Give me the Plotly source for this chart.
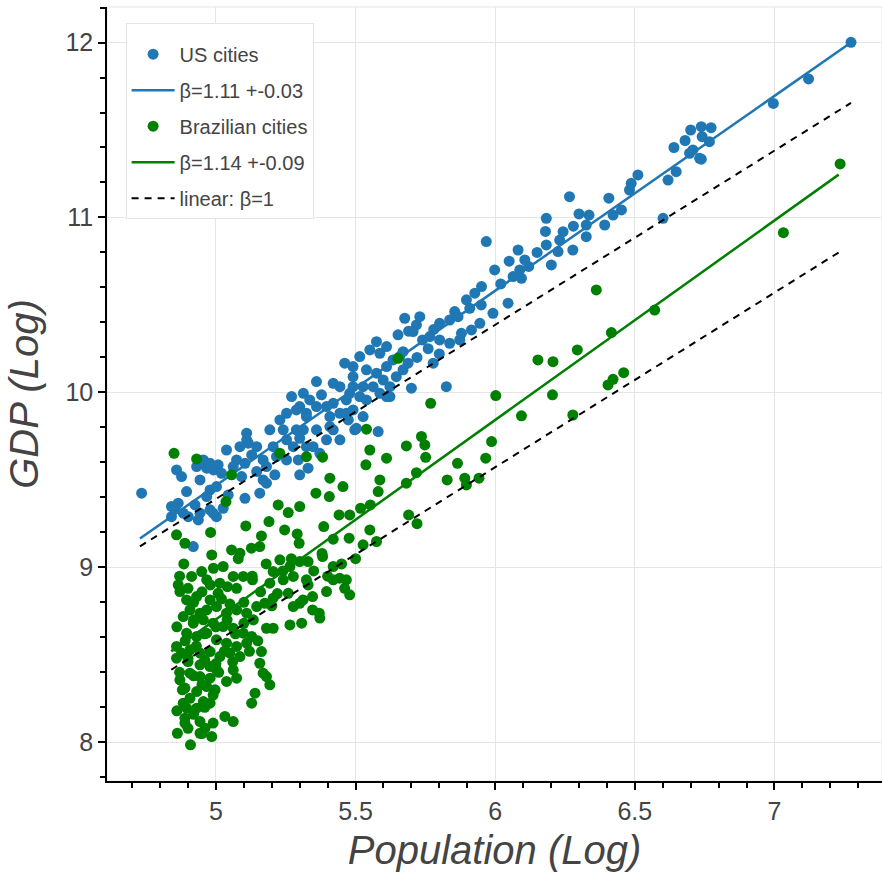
import plotly.graph_objects as go

# ---------------- data ----------------
US_X = [4.734, 4.859, 4.877, 4.895, 4.865, 4.853, 4.841, 4.931, 4.943, 4.955, 4.991, 5.008, 4.979, 4.967,
        5.002, 4.925, 4.943, 4.901, 4.937, 4.919, 4.979, 5.002, 4.99, 5.026, 5.044, 5.038, 5.11, 5.116,
        5.074, 5.104, 5.146, 5.092, 5.146, 5.181, 5.193, 5.241, 5.288, 5.205, 5.169, 5.211, 5.104, 5.157,
        5.181, 5.253, 5.277, 5.30, 5.295, 5.33, 5.30, 5.253, 5.271, 5.313, 5.36, 5.378, 5.408, 5.42,
        5.444, 5.36, 5.396, 5.348, 5.372, 5.444, 5.474, 5.497, 5.479, 5.527, 5.539, 5.581, 5.611,
        5.652, 5.575, 5.551, 5.587, 5.611, 5.634, 5.658, 5.461, 5.491, 5.539, 5.575, 5.599, 5.36, 5.42,
        5.324, 5.467, 5.503, 5.408, 5.313, 5.11, 5.515, 5.587, 5.623, 5.623, 5.563, 5.467, 5.396, 5.30, 5.491,
        4.967, 5.02, 4.979, 4.883, 4.841, 5.062, 5.128, 5.169, 5.086, 5.229, 5.324, 5.288, 5.336, 5.253,
        5.217, 5.324, 5.491, 5.42, 5.444, 5.527, 5.515, 5.611, 5.646, 5.491,
        5.74, 5.76, 5.72, 5.80, 5.78, 5.69, 6.02, 6.12, 6.15, 6.05, 6.28, 6.30, 6.18,
        6.696, 6.708, 6.732, 6.648, 6.619, 6.511, 6.487, 6.481, 6.407, 6.266, 6.452, 6.422, 6.392, 6.336,
        6.326, 6.326, 6.601, 6.183, 6.243, 6.231, 6.183, 6.225, 6.278, 6.201, 5.968, 5.998, 6.082, 6.106,
        6.088, 6.064, 6.094, 6.046, 5.992, 5.951, 5.927, 5.897, 5.909, 5.855, 5.837, 5.801, 5.73, 5.676,
        5.718, 5.945, 5.915, 5.873, 5.837, 5.778, 5.825, 5.70, 5.67, 5.801, 5.706, 5.766, 5.867, 5.95,
        5.879, 5.67, 5.688,
        6.738, 6.773, 6.741, 6.767, 6.738, 6.996, 7.122, 7.274, 6.70, 6.68, 6.64]
US_Y = [9.424, 9.557, 9.519, 9.433, 9.367, 9.338, 9.29, 9.576, 9.5, 9.614, 9.557, 9.586, 9.443, 9.405,
        9.462, 9.357, 9.31, 9.29, 9.271, 9.119, 9.329, 9.29, 9.31, 9.338, 9.414, 9.671, 9.767, 9.71,
        9.614, 9.595, 9.69, 9.519, 9.548, 9.576, 9.786, 9.786, 9.786, 9.69, 9.5, 9.529, 9.395, 9.424,
        9.481, 9.614, 9.69, 9.738, 9.614, 9.567, 9.529, 9.881, 9.976, 9.995, 9.919, 9.986, 9.862, 9.938,
        10.033, 9.786, 9.729, 9.69, 9.652, 9.881, 9.843, 9.786, 9.995, 10.033, 9.957, 9.776, 9.976,
        10.329, 10.29, 10.243, 10.224, 10.262, 10.186, 10.205, 10.167, 10.09, 10.129, 10.11, 10.071, 10.062, 10.052,
        9.881, 9.881, 9.795, 9.805, 9.786, 9.729, 9.976, 9.995, 9.976, 10.033, 10.033, 9.957, 9.919, 9.919, 10.033,
        9.567, 9.538, 9.595, 9.31, 9.348, 9.576, 9.643, 9.614, 9.69, 9.843, 9.862, 9.90, 9.957, 9.729,
        9.633, 9.69, 9.90, 9.786, 9.729, 9.862, 10.205, 10.148, 10.09, 10.148,
        10.30, 10.25, 10.20, 10.22, 10.36, 10.35, 10.62, 10.72, 10.80, 10.75, 10.95, 11.02, 10.92,
        11.367, 11.386, 11.338, 11.262, 11.214, 11.243, 11.195, 11.157, 11.11, 11.119, 11.043, 11.014, 10.957, 11.014,
        10.957, 10.89, 10.995, 10.995, 10.919, 10.871, 10.843, 10.805, 10.814, 10.729, 10.862, 10.7, 10.814, 10.757,
        10.7, 10.662, 10.652, 10.51, 10.452, 10.605, 10.567, 10.529, 10.481, 10.462, 10.414, 10.395, 10.433, 10.424,
        10.386, 10.395, 10.357, 10.3, 10.281, 10.167, 10.033, 10.024, 10.233, 10.3, 10.348, 10.319, 10.433, 10.5,
        10.338, 10.129, 10.167,
        11.519, 11.513, 11.462, 11.433, 11.333, 11.652, 11.792, 12.001, 11.50, 11.44, 11.40]

BR_X = [4.85, 4.931, 5.056, 5.036, 5.229, 5.324, 5.382, 5.539, 5.551, 5.611, 5.537, 5.408, 5.455, 5.358,
        5.406, 5.587, 5.581, 5.223, 5.30, 5.259, 5.441, 5.479, 5.518, 5.553, 5.107, 5.19, 5.246, 5.291,
        5.386, 4.859, 4.981, 5.163, 4.889, 5.298, 5.42, 5.477, 5.527, 5.575, 5.551, 5.056, 5.086, 5.127,
        5.157, 4.985, 4.885, 5.229, 5.265, 5.30, 5.33, 5.42, 5.382, 5.205, 5.241, 5.277, 5.324, 4.949,
        4.991, 5.026, 5.062, 5.098, 5.131, 4.913, 4.865, 4.871, 4.967, 5.014, 5.041, 5.074, 5.193, 5.205,
        5.259, 5.312, 5.346, 5.396, 5.42, 5.443, 5.467, 5.461, 5.479, 5.277, 5.30, 5.346, 5.37, 5.372,
        5.181, 5.205, 5.265, 5.307, 5.175, 5.146,
        4.895, 4.931, 4.979, 5.008, 4.907, 4.943, 4.967, 5.002, 5.038, 5.074, 5.11, 5.134, 4.883, 4.919,
        4.955, 4.99, 5.026, 5.062, 5.098, 5.128, 4.895, 4.931, 4.967, 5.002, 5.038, 5.074, 5.11, 4.859,
        4.877, 4.907, 4.943, 4.979, 5.014, 5.05, 5.086, 4.859, 4.90, 4.943, 4.979, 5.163, 5.157, 5.169,
        5.181, 5.193, 5.062, 5.074, 5.038, 4.871, 4.907, 4.943, 4.979, 5.002, 4.889, 4.931, 4.967, 4.997,
        4.907, 4.955, 4.979, 5.14, 5.128, 4.883, 4.895, 4.931, 4.889, 4.943, 4.889, 5.032, 5.062, 4.99,
        4.961, 4.985, 4.862, 4.909, 4.943,
        4.87, 4.90, 4.92, 4.95, 4.98, 5.02, 5.05, 4.86, 4.89, 4.92, 4.96, 5.00, 5.04, 5.07, 5.10,
        4.87, 4.90, 4.93, 4.96, 5.00, 5.03, 4.88, 4.92, 4.95, 4.99, 4.86, 4.92, 4.96, 4.90, 4.95,
        5.01, 5.06, 5.12, 5.15, 5.10, 5.16, 5.20, 5.22, 5.24, 5.27, 5.18, 5.13, 5.08, 5.35, 5.38,
        5.33, 5.45, 5.50, 5.40,
        7.235, 7.032, 6.362, 6.571, 6.416, 6.294, 6.153, 6.207, 6.46, 6.422, 6.404, 6.002, 6.205, 5.769,
        6.094, 6.278, 5.987, 5.736, 5.748, 5.682, 5.751, 5.966, 5.865, 5.718, 5.682, 5.828, 5.891, 5.897,
        5.942, 5.652, 5.72, 5.69]
BR_Y = [9.652, 9.62, 9.529, 9.376, 9.652, 9.633, 9.63, 9.79, 9.671, 9.624, 9.586, 9.51, 9.462, 9.424,
        9.405, 9.5, 9.433, 9.357, 9.348, 9.313, 9.3, 9.3, 9.338, 9.357, 9.237, 9.262, 9.214, 9.191,
        9.233, 9.186, 9.2, 9.18, 9.138, 9.138, 9.161, 9.167, 9.129, 9.148, 9.214, 9.1, 9.081, 9.11,
        9.119, 9.071, 9.02, 9.043, 9.005, 9.033, 9.033, 9.005, 9.062, 8.976, 8.929, 8.948, 8.929, 8.976,
        8.995, 9.005, 8.948, 8.948, 8.929, 8.948, 8.9, 8.862, 8.929, 8.91, 8.89, 8.88, 8.91, 8.824,
        8.852, 8.814, 8.833, 8.862, 8.929, 8.938, 8.929, 8.88, 8.843, 8.776, 8.795, 8.757, 8.738, 8.71,
        8.652, 8.652, 8.671, 8.681, 8.795, 8.776,
        8.814, 8.833, 8.814, 8.852, 8.757, 8.738, 8.757, 8.776, 8.738, 8.757, 8.738, 8.70, 8.719, 8.681,
        8.70, 8.681, 8.662, 8.652, 8.624, 8.605, 8.624, 8.605, 8.624, 8.586, 8.567, 8.548, 8.567, 8.548,
        8.51, 8.529, 8.51, 8.519, 8.49, 8.51, 8.49, 8.481, 8.462, 8.443, 8.433, 8.519, 8.452, 8.395,
        8.376, 8.329, 8.414, 8.367, 8.348, 8.357, 8.395, 8.376, 8.367, 8.414, 8.31, 8.29, 8.319, 8.30,
        8.252, 8.233, 8.224, 8.281, 8.224, 8.224, 8.195, 8.195, 8.138, 8.119, 8.11, 8.148, 8.119, 8.11,
        8.081, 8.033, 8.052, 7.986, 8.052,
        8.95, 8.88, 8.80, 8.86, 8.90, 8.82, 8.79, 8.66, 8.58, 8.70, 8.62, 8.66, 8.70, 8.62, 8.68,
        8.40, 8.48, 8.55, 8.47, 8.45, 8.52, 8.30, 8.38, 8.33, 8.27, 8.18, 8.16, 8.20, 8.08, 8.05,
        8.40, 8.46, 8.52, 8.58, 8.80, 8.86, 8.78, 8.85, 8.98, 9.05, 9.02, 8.95, 9.05, 8.98, 9.08,
        8.90, 9.02, 9.05, 8.95,
        11.306, 10.913, 10.586, 10.471, 10.342, 10.243, 10.186, 10.176, 10.113, 10.075, 10.043, 9.982, 9.986, 9.938,
        9.866, 9.871, 9.719, 9.748, 9.70, 9.694, 9.629, 9.624, 9.595, 9.541, 9.481, 9.50, 9.51, 9.471,
        9.51, 10.195, 9.25, 9.30]

# fit / reference lines (end points)
US_FIT_X = [4.728, 7.274]
US_FIT_Y = [9.165, 12.0]
BR_FIT_X = [4.84, 7.23]
BR_FIT_Y = [8.52, 11.245]
US_LIN_X = [4.728, 7.274]
US_LIN_Y = [9.12, 11.655]
BR_LIN_X = [4.84, 7.23]
BR_LIN_Y = [8.415, 10.80]

X_TICKS = [5, 5.5, 6, 6.5, 7]
X_TICK_LABELS = ["5", "5.5", "6", "6.5", "7"]
Y_TICKS = [8, 9, 10, 11, 12]
Y_TICK_LABELS = ["8", "9", "10", "11", "12"]

NAMES = ["US cities", "β=1.11 +-0.03", "Brazilian cities", "β=1.14 +-0.09", "linear: β=1"]

BLUE = "#1f77b4"
GREEN = "#008000"
FONT = "Liberation Sans, Arial, sans-serif"
MSIZE = 11

fig = go.Figure()
fig.add_trace(go.Scatter(x=US_X, y=US_Y, mode="markers", name=NAMES[0], legendgroup="a",
                         marker=dict(size=MSIZE, color=BLUE, line=dict(width=0))))
fig.add_trace(go.Scatter(x=US_FIT_X, y=US_FIT_Y, mode="lines", name=NAMES[1], legendgroup="b",
                         line=dict(color=BLUE, width=2.5)))
fig.add_trace(go.Scatter(x=BR_X, y=BR_Y, mode="markers", name=NAMES[2], legendgroup="c",
                         marker=dict(size=MSIZE, color=GREEN, line=dict(width=0))))
fig.add_trace(go.Scatter(x=BR_FIT_X, y=BR_FIT_Y, mode="lines", name=NAMES[3], legendgroup="d",
                         line=dict(color=GREEN, width=2.5)))
fig.add_trace(go.Scatter(x=US_LIN_X, y=US_LIN_Y, mode="lines", name=NAMES[4], legendgroup="e",
                         line=dict(color="black", width=2, dash="7px,6px")))
fig.add_trace(go.Scatter(x=BR_LIN_X, y=BR_LIN_Y, mode="lines", name=NAMES[4], legendgroup="e",
                         showlegend=False, line=dict(color="black", width=2, dash="7px,6px")))

axis_common = dict(
    showline=True, linecolor="black", linewidth=1.5,
    ticks="outside", ticklen=7, tickwidth=1.5, tickcolor="black",
    showgrid=True, gridcolor="#e5e5e5", gridwidth=1,
    zeroline=False,
    tickfont=dict(family=FONT, size=25, color="#444"),
)

fig.update_layout(
    width=882, height=879,
    margin=dict(l=107, r=0, t=7, b=98),
    paper_bgcolor="white", plot_bgcolor="white",
    font=dict(family=FONT, color="#444"),
    xaxis=dict(range=[4.61, 7.385], tickvals=X_TICKS, ticktext=X_TICK_LABELS,
               minor=dict(dtick=0.1, ticks="outside", ticklen=5, tickwidth=1.5, tickcolor="black", showgrid=False),
               title=dict(text="<i>Population (Log)</i>", font=dict(family=FONT, size=40, color="#444"), standoff=12),
               **axis_common),
    yaxis=dict(range=[7.779, 12.203], tickvals=Y_TICKS, ticktext=Y_TICK_LABELS,
               minor=dict(dtick=0.2, ticks="outside", ticklen=5, tickwidth=1.5, tickcolor="black", showgrid=False),
               title=dict(text="<i>GDP (Log)</i>", font=dict(family=FONT, size=40, color="#444"), standoff=14),
               **axis_common),
    legend=dict(x=0.024, y=0.979, xanchor="left", yanchor="top",
                bgcolor="white", bordercolor="#e5e5e5", borderwidth=1,
                font=dict(family=FONT, size=20, color="#444"),
                title=dict(text=" ", font=dict(size=8)),
                tracegroupgap=7, itemwidth=43, traceorder="grouped"),
    showlegend=True,
)

# light outline of the plot frame
fig.add_shape(type="rect", xref="paper", yref="paper", x0=0, x1=1, y0=0, y1=1,
              line=dict(color="#e5e5e5", width=1), layer="below")

fig.write_html("out.html")
